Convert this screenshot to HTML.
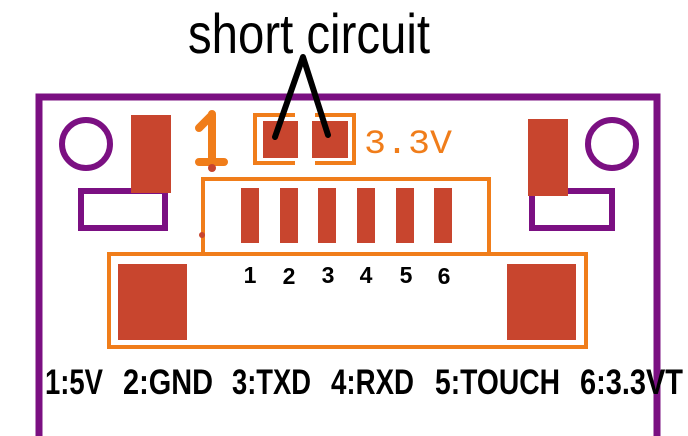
<!DOCTYPE html>
<html><head><meta charset="utf-8"><style>html,body{margin:0;padding:0;background:#fff}svg{display:block}</style></head>
<body>
<svg width="688" height="436" viewBox="0 0 688 436" xmlns="http://www.w3.org/2000/svg">
<rect width="688" height="436" fill="#fff"/>
<!-- purple board outline -->
<path d="M39 436 V97 H657 V436" fill="none" stroke="#7b1082" stroke-width="7"/>
<circle cx="86" cy="144" r="24" fill="none" stroke="#7b1082" stroke-width="6"/>
<circle cx="612" cy="144" r="24" fill="none" stroke="#7b1082" stroke-width="6"/>
<rect x="81" y="191" width="84" height="37" fill="none" stroke="#7b1082" stroke-width="6"/>
<rect x="532" y="191" width="80" height="37" fill="none" stroke="#7b1082" stroke-width="6"/>
<rect x="131" y="115" width="40" height="78" fill="#c8452e"/>
<rect x="528" y="119" width="40" height="77" fill="#c8452e"/>
<!-- orange 1 -->
<path d="M212 114 V162 M199 128 L212 115 M199 162 H224" fill="none" stroke="#f07d1a" stroke-width="8" stroke-linecap="round"/>
<circle cx="212" cy="168" r="4" fill="#c8452e"/>
<!-- jumper pads -->
<path d="M295 115 H255 V163 H295" fill="none" stroke="#f07d1a" stroke-width="4"/>
<path d="M315 115 H354 V163 H315" fill="none" stroke="#f07d1a" stroke-width="4"/>
<rect x="263" y="121" width="35" height="37" fill="#c8452e"/>
<rect x="312" y="121" width="36" height="37" fill="#c8452e"/>
<text x="364" y="153" font-family="Liberation Mono, monospace" font-size="34" fill="#f07d1a" textLength="88" lengthAdjust="spacingAndGlyphs">3.3V</text>
<!-- connector -->
<path d="M203 253 V179 H489 V253" fill="none" stroke="#f07d1a" stroke-width="4"/>
<circle cx="202" cy="235" r="3" fill="#c8452e"/>
<g fill="#c8452e">
<rect x="241" y="188" width="18" height="55"/><rect x="280" y="188" width="18" height="55"/>
<rect x="318" y="188" width="18" height="55"/><rect x="357" y="188" width="18" height="55"/>
<rect x="396" y="188" width="18" height="55"/><rect x="434" y="188" width="18" height="55"/>
</g>
<rect x="109" y="254" width="477" height="93" fill="none" stroke="#f07d1a" stroke-width="4"/>
<rect x="118" y="264" width="69" height="76" fill="#c8452e"/>
<rect x="507" y="264" width="69" height="76" fill="#c8452e"/>
<g font-family="Liberation Sans, sans-serif" font-weight="bold" font-size="23" text-anchor="middle" fill="#000">
<text x="250" y="283">1</text><text x="289" y="284">2</text><text x="328" y="283">3</text>
<text x="366" y="283">4</text><text x="406" y="283">5</text><text x="444" y="284">6</text>
</g>
<!-- short circuit -->
<text x="188" y="53" font-family="Liberation Sans, sans-serif" font-size="56" fill="#000" textLength="242" lengthAdjust="spacingAndGlyphs">short circuit</text>
<path d="M275 137 L303 57 L328 135" fill="none" stroke="#000" stroke-width="6" stroke-linecap="round" stroke-linejoin="round"/>
<!-- bottom labels -->
<g font-family="Liberation Sans, sans-serif" font-weight="bold" font-size="35" fill="#000" lengthAdjust="spacingAndGlyphs">
<text x="45" y="394" textLength="58" lengthAdjust="spacingAndGlyphs">1:5V</text>
<text x="123" y="394" textLength="90" lengthAdjust="spacingAndGlyphs">2:GND</text>
<text x="232" y="394" textLength="79" lengthAdjust="spacingAndGlyphs">3:TXD</text>
<text x="331" y="394" textLength="83" lengthAdjust="spacingAndGlyphs">4:RXD</text>
<text x="435" y="394" textLength="125" lengthAdjust="spacingAndGlyphs">5:TOUCH</text>
<text x="580" y="394" textLength="103" lengthAdjust="spacingAndGlyphs">6:3.3VT</text>
</g>
</svg>
</body></html>
